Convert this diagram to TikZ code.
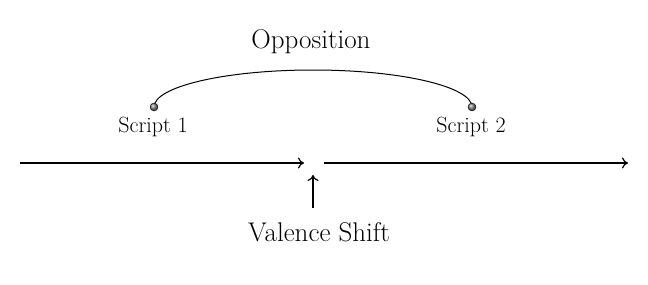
\documentclass[tikz,border=0pt]{standalone}
\usepackage{tikz}
\usetikzlibrary{arrows.meta}

\tikzset{
  axis/.style={line width=1.2pt, -{To[length=6pt,width=11pt]}},
  pin/.style={circle, draw=black, shade, ball color=gray, inner sep=0pt, minimum size=8pt},
  lbl/.style={font=\fontsize{22}{24}\selectfont},
  big/.style={font=\fontsize{27}{30}\selectfont}
}

\begin{document}
\begin{tikzpicture}[x=1pt,y=-1pt]
        \useasboundingbox (0,0) rectangle (648,284);

        \coordinate (L1) at (20,163);
        \coordinate (L2) at (304,163);
        \coordinate (R1) at (324,163);
        \coordinate (R2) at (628,163);
        \coordinate (V1) at (313,208);
        \coordinate (V2) at (313,175);

        \draw[axis] (L1) -- (L2);
        \draw[axis] (R1) -- (R2);
        \draw[axis] (V1) -- (V2);

        \coordinate (S1) at (154,107);
        \coordinate (S2) at (472,107);
        \draw[line width=1pt] (S1) arc[start angle=180, end angle=0, x radius=159pt, y radius=37pt];
        \node[pin] (P1) at (S1) {};
        \node[pin] (P2) at (S2) {};

        \node[lbl] (T1) at (153,127) {Script 1};
        \node[lbl] (T2) at (471,127) {Script 2};
        \node[big] (O) at (311,42) {Opposition};
        \node[big] (V) at (319,232) {Valence Shift};
    \end{tikzpicture}
\end{document}
